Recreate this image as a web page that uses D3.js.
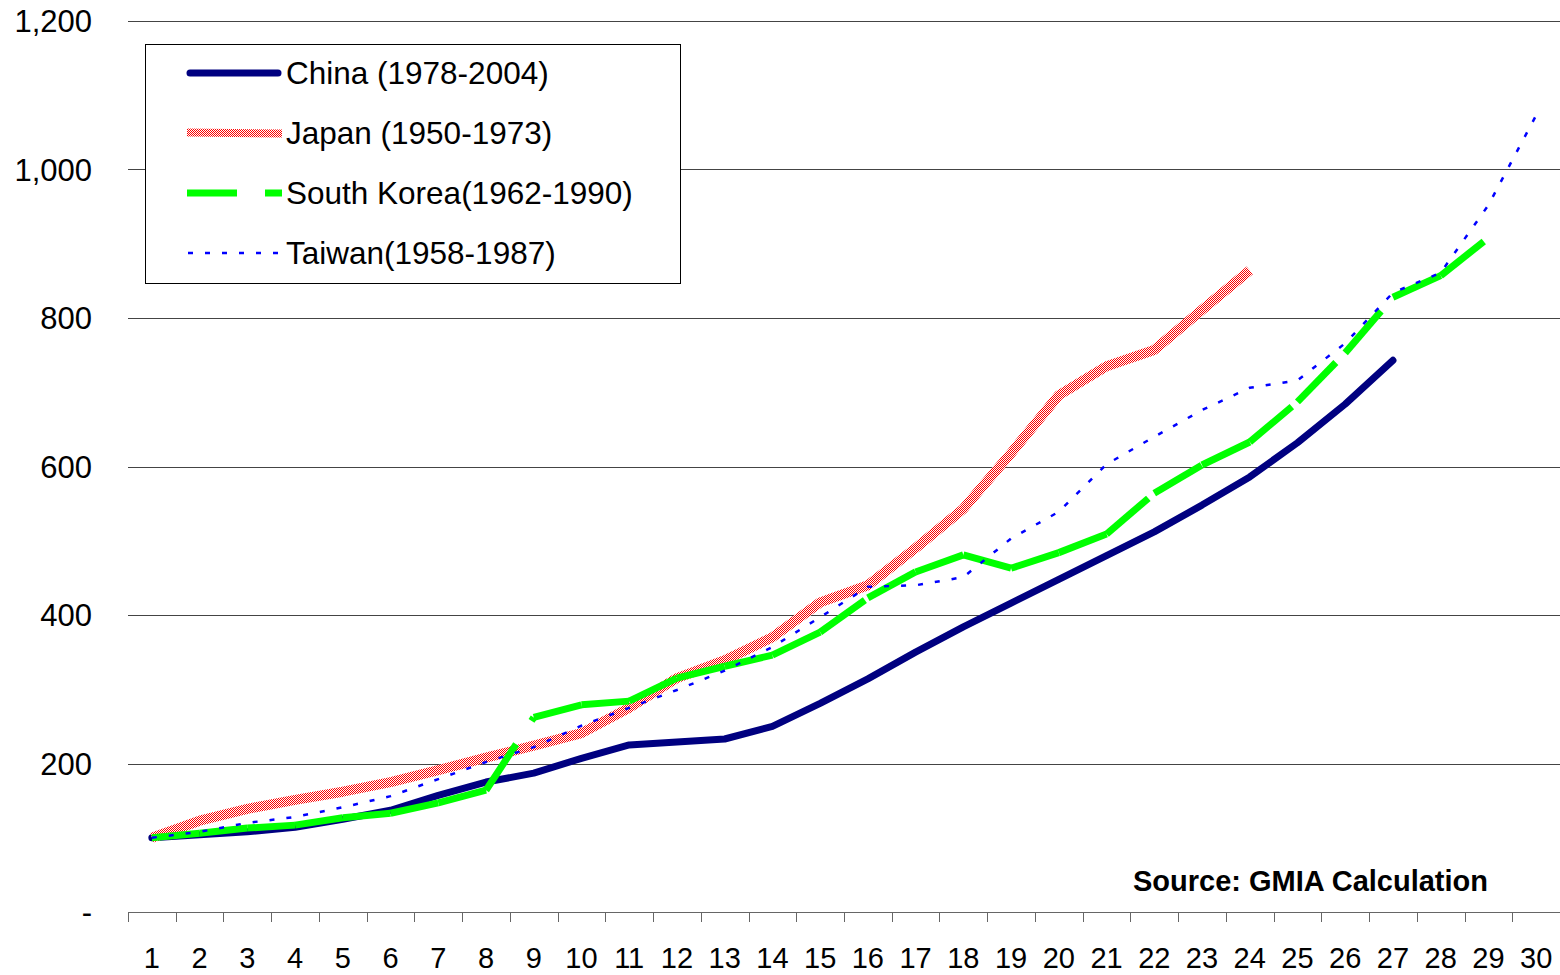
<!DOCTYPE html>
<html>
<head>
<meta charset="utf-8">
<script src="https://cdn.jsdelivr.net/npm/d3@7"></script>
<style>
  html, body { margin: 0; padding: 0; background: #fff; }
  svg { display: block; }
  text { font-family: "Liberation Sans", Arial, sans-serif; fill: #000; }
</style>
</head>
<body>
<script>
var categories = [1, 2, 3, 4, 5, 6, 7, 8, 9, 10, 11, 12, 13, 14, 15,
                  16, 17, 18, 19, 20, 21, 22, 23, 24, 25, 26, 27, 28, 29, 30];

var china = [100, 104, 108, 114, 125, 137, 157, 175, 187, 207, 225, 229, 233, 250,
             281, 314, 350, 384, 416, 448, 480, 512, 548, 586, 632, 684, 743];
var japan = [100, 123, 139, 151, 162, 175, 191, 208, 224, 241, 275, 315, 339, 370,
             417, 440, 490, 543, 618, 696, 735, 757, 811, 864];
var korea = [100, 106, 113, 117, 127, 133, 147, 164, 262, 279, 284, 315, 331, 346,
             377, 423, 458, 481, 463, 484, 509, 564, 602, 633, 687, 753, 828, 857, 908];
var taiwan = [100, 108, 120, 128, 141, 156, 179, 202, 222, 251, 275, 299, 325, 357,
              397, 438, 440, 451, 503, 539, 603, 640, 676, 706, 716, 766, 834, 861, 952, 1073];

var seriesNames = ['China (1978-2004)', 'Japan (1950-1973)', 'South Korea(1962-1990)', 'Taiwan(1958-1987)'];
var yTicks = [0, 200, 400, 600, 800, 1000, 1200];

var width = 1560, height = 975;
var plotLeft = 128, plotRight = 1560, plotTop = 21, plotBottom = 912;

var svg = d3.select('body').append('svg')
    .attr('width', width)
    .attr('height', height);

// red/white checker used for the Japan line (4x4 tile of 1px cells)
var defs = svg.append('defs');
var pat = defs.append('pattern')
    .attr('id', 'checker')
    .attr('patternUnits', 'userSpaceOnUse')
    .attr('width', 4)
    .attr('height', 4);
pat.append('rect').attr('width', 4).attr('height', 4).attr('fill', '#ffffff');
d3.range(16).forEach(function (k) {
    var cx = k % 4, cy = Math.floor(k / 4);
    if ((cx + cy) % 2 === 0) {
        pat.append('rect')
            .attr('x', cx).attr('y', cy)
            .attr('width', 1).attr('height', 1)
            .attr('fill', '#ff0000')
            .attr('shape-rendering', 'crispEdges');
    }
});

var x = d3.scaleBand().domain(categories).range([plotLeft, plotRight]);
var y = d3.scaleLinear().domain([0, 1200]).range([plotBottom, plotTop]);

function px(i) { return x(categories[i]) + x.bandwidth() / 2; }

// gridlines
svg.append('g')
    .selectAll('line')
    .data(yTicks.filter(function (d) { return d > 0; }))
    .enter().append('line')
    .attr('x1', plotLeft).attr('x2', plotRight)
    .attr('y1', function (d) { return Math.round(y(d)) + 0.5; })
    .attr('y2', function (d) { return Math.round(y(d)) + 0.5; })
    .attr('stroke', '#444')
    .attr('stroke-width', 1);

// y labels
svg.append('g')
    .selectAll('text')
    .data(yTicks)
    .enter().append('text')
    .attr('x', 92)
    .attr('y', function (d) { return y(d); })
    .attr('dy', '0.36em')
    .attr('text-anchor', 'end')
    .style('font-size', '31px')
    .text(function (d) { return d === 0 ? '-' : d3.format(',')(d); });

// x axis line + ticks at band edges
var xAxis = svg.append('g');
xAxis.append('line')
    .attr('x1', plotLeft).attr('x2', plotRight)
    .attr('y1', plotBottom + 0.5).attr('y2', plotBottom + 0.5)
    .attr('stroke', '#666');
xAxis.selectAll('line.tick')
    .data(categories)
    .enter().append('line')
    .attr('class', 'tick')
    .attr('x1', function (d) { return Math.round(x(d)) + 0.5; })
    .attr('x2', function (d) { return Math.round(x(d)) + 0.5; })
    .attr('y1', plotBottom).attr('y2', plotBottom + 10)
    .attr('stroke', '#666');
xAxis.selectAll('text')
    .data(categories)
    .enter().append('text')
    .attr('x', function (d) { return x(d) + x.bandwidth() / 2; })
    .attr('y', 968)
    .attr('text-anchor', 'middle')
    .style('font-size', '29px')
    .text(function (d) { return d; });

var line = d3.line()
    .x(function (d, i) { return px(i); })
    .y(function (d) { return y(d); });

// China
svg.append('path')
    .datum(china)
    .attr('d', line)
    .attr('fill', 'none')
    .attr('stroke', '#000080')
    .attr('stroke-width', 7)
    .attr('stroke-linecap', 'round')
    .attr('stroke-linejoin', 'round');

// Japan
svg.append('path')
    .datum(japan)
    .attr('d', line)
    .attr('fill', 'none')
    .attr('stroke', 'url(#checker)')
    .attr('stroke-width', 10)
    .attr('stroke-linejoin', 'round');

// South Korea: dash pattern restarts at each point, like the source chart
var koreaDash = '55,28';
var koreaSegs = korea.slice(1).map(function (v, i) {
    return { i: i, a: korea[i], b: v };
});
var segLine = d3.line()
    .x(function (d) { return d[0]; })
    .y(function (d) { return d[1]; });
svg.append('g')
    .selectAll('path')
    .data(koreaSegs)
    .enter().append('path')
    .attr('d', function (s) {
        return segLine([[px(s.i), y(s.a)], [px(s.i + 1), y(s.b)]]);
    })
    .attr('fill', 'none')
    .attr('stroke', '#00ff00')
    .attr('stroke-width', 7)
    .attr('stroke-dasharray', koreaDash);

// Taiwan
svg.append('path')
    .datum(taiwan)
    .attr('d', line)
    .attr('fill', 'none')
    .attr('stroke', '#0000ff')
    .attr('stroke-width', 2.5)
    .attr('stroke-dasharray', '5,12');

// legend
var lg = svg.append('g');
lg.append('rect')
    .attr('x', 145.5).attr('y', 44.5)
    .attr('width', 535).attr('height', 239)
    .attr('fill', '#fff')
    .attr('stroke', '#000');

var rowY = [73, 133, 193, 253];

lg.append('line')
    .attr('x1', 190).attr('x2', 278).attr('y1', rowY[0]).attr('y2', rowY[0])
    .attr('stroke', '#000080').attr('stroke-width', 7)
    .attr('stroke-linecap', 'round');
lg.append('path')
    .attr('d', 'M187,' + (rowY[1] - 0.5) + 'L282,' + (rowY[1] + 0.5))
    .attr('fill', 'none')
    .attr('stroke', 'url(#checker)').attr('stroke-width', 8);
lg.append('line')
    .attr('x1', 187).attr('x2', 282).attr('y1', rowY[2]).attr('y2', rowY[2])
    .attr('stroke', '#00ff00').attr('stroke-width', 7)
    .attr('stroke-dasharray', '50,28');
lg.append('line')
    .attr('x1', 188).attr('x2', 280).attr('y1', rowY[3]).attr('y2', rowY[3])
    .attr('stroke', '#0000ff').attr('stroke-width', 2.5)
    .attr('stroke-dasharray', '5,12');

lg.selectAll('text')
    .data(seriesNames)
    .enter().append('text')
    .attr('x', 286)
    .attr('y', function (d, i) { return rowY[i]; })
    .attr('dy', '0.36em')
    .style('font-size', '31.5px')
    .text(function (d) { return d; });

// source note
svg.append('text')
    .attr('x', 1488)
    .attr('y', 891)
    .attr('text-anchor', 'end')
    .style('font-size', '29px')
    .style('font-weight', 'bold')
    .text('Source: GMIA Calculation');
</script>
</body>
</html>
